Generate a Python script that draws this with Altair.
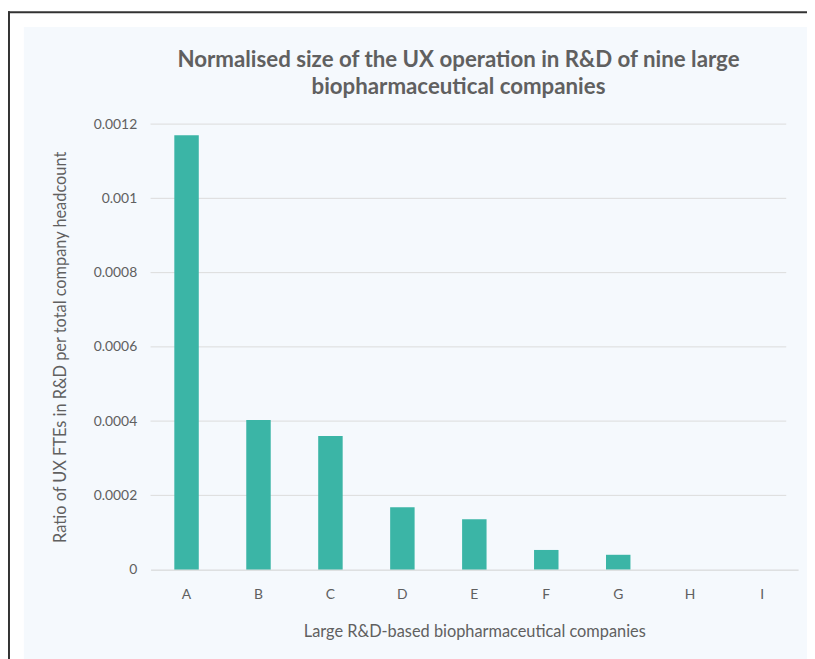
import altair as alt
import pandas as pd

companies = ["A", "B", "C", "D", "E", "F", "G", "H", "I"]
ratios = [0.00117, 0.000403, 0.00036, 0.000168, 0.000136, 0.000053, 0.00004, 0.0, 0.0]
y_ticks = [0, 0.0002, 0.0004, 0.0006, 0.0008, 0.001, 0.0012]
title_lines = ["Normalised size of the UX operation in R&D of nine large",
               "biopharmaceutical companies"]

df = pd.DataFrame({"company": companies, "ratio": ratios})
grid_df = pd.DataFrame({"tick": y_ticks[1:]})

W, H = 654, 450
PAD = {"left": 144, "top": 114, "right": 9, "bottom": 87}
GRAY = "#606060"
FONT = "Lato"

one = alt.Data(values=[{}])
panel = alt.Chart(one).mark_rect(color="#f5f9fd").encode(
    x=alt.value(-128), x2=alt.value(W + 20), y=alt.value(-98), y2=alt.value(H + 100)
)
frame_left = alt.Chart(one).mark_rule(color="#333333", strokeWidth=2).encode(
    x=alt.value(-143), y=alt.value(-114), y2=alt.value(H + 100)
)
frame_top = alt.Chart(one).mark_rule(color="#333333", strokeWidth=2).encode(
    x=alt.value(-144), x2=alt.value(W + 20), y=alt.value(-113)
)

title1 = alt.Chart(alt.Data(values=[{"t": title_lines[0]}])).mark_text(
    font=FONT, fontSize=22.5, fontWeight="bold", color=GRAY, align="center", baseline="middle"
).encode(text="t:N", x=alt.value(311), y=alt.value(-65))
title2 = alt.Chart(alt.Data(values=[{"t": title_lines[1]}])).mark_text(
    font=FONT, fontSize=22.5, fontWeight="bold", color=GRAY, align="center", baseline="middle"
).encode(text="t:N", x=alt.value(311), y=alt.value(-37))

grid = alt.Chart(grid_df).mark_rule(color="#dcdcdc", strokeWidth=1).encode(
    y=alt.Y("tick:Q"),
    x=alt.value(0),
    x2=alt.value(W - 12),
)

bars = alt.Chart(df).mark_bar(color="#3bb5a6").encode(
    x=alt.X(
        "company:N",
        sort=companies,
        scale=alt.Scale(paddingInner=0.66, paddingOuter=0.33),
        axis=alt.Axis(
            title="Large R&D-based biopharmaceutical companies",
            labelAngle=0,
            ticks=False,
            domainColor="#d0d0d0",
            labelPadding=18,
            titlePadding=23,
            zindex=1,
        ),
    ),
    y=alt.Y(
        "ratio:Q",
        scale=alt.Scale(domain=[0, 0.0012]),
        axis=alt.Axis(
            title="Ratio of UX FTEs in R&D per total company headcount",
            values=y_ticks,
            format="~g",
            domain=False,
            ticks=False,
            grid=False,
            labelPadding=14,
            titlePadding=25,
            zindex=1,
        ),
    ),
)

chart = alt.layer(panel, frame_left, frame_top, title1, title2, grid, bars).properties(
    width=W,
    height=H,
    padding=PAD,
    autosize=alt.AutoSizeParams(type="none"),
    background="white",
).configure_view(stroke=None).configure_axis(
    labelFont=FONT,
    titleFont=FONT,
    labelColor=GRAY,
    titleColor=GRAY,
    labelFontSize=14,
    titleFontSize=16.5,
    titleFontWeight="normal",
)

chart.save("out.html", embed_options={"renderer": "svg", "actions": False})
